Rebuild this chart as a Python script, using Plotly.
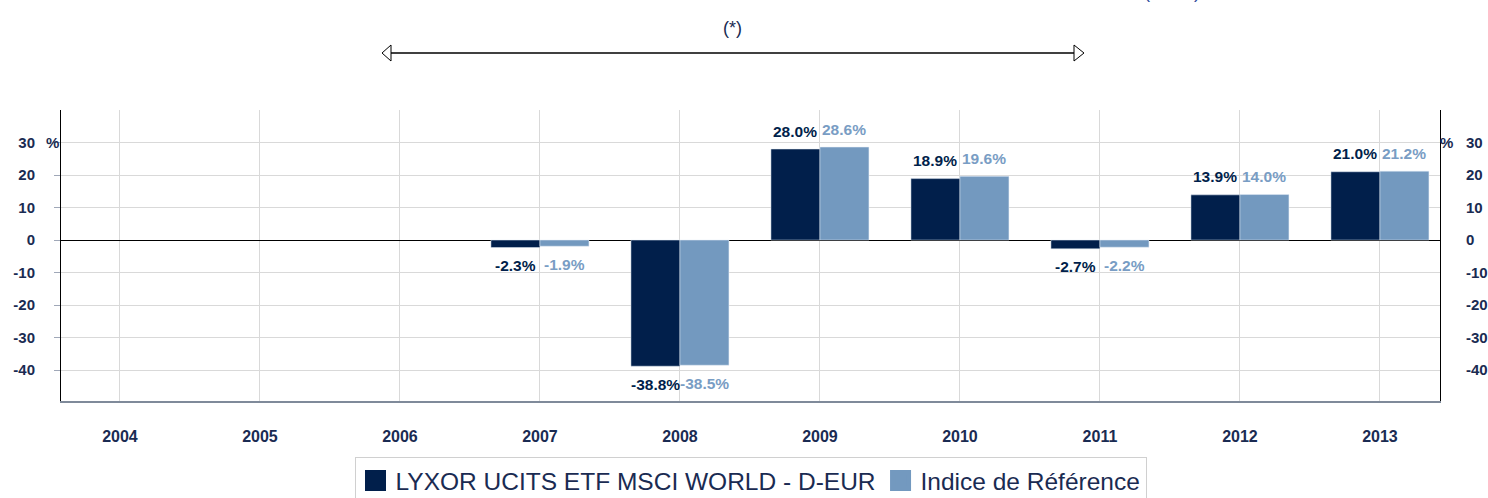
import plotly.graph_objects as go

# ---- data ----
axis_years = [2004, 2005, 2006, 2007, 2008, 2009, 2010, 2011, 2012, 2013]
years = [2007, 2008, 2009, 2010, 2011, 2012, 2013]
fund = [-2.3, -38.8, 28.0, 18.9, -2.7, 13.9, 21.0]
bench = [-1.9, -38.5, 28.6, 19.6, -2.2, 14.0, 21.2]
fund_name = "LYXOR UCITS ETF MSCI WORLD - D-EUR"
bench_name = "Indice de Référence"
y_ticks = [-40, -30, -20, -10, 0, 10, 20, 30]
y_ticktext = [str(v) for v in y_ticks]

# ---- style ----
DARK = "#011f4b"
LIGHT = "#7399bf"
LIGHT_TXT = "#799dc4"
NAVY = "#1a2b52"
GRID = "#d9d9d9"
FONT = "Liberation Sans, Arial, sans-serif"

W, H = 1488, 498
ML, MR, MT, MB = 61, 48, 110, 97
PW, PH = W - ML - MR, H - MT - MB


def px_x(p):
    return (p - ML) / PW


def px_y(p):
    return (H - MB - p) / PH


fig = go.Figure()
fig.add_trace(go.Bar(x=years, y=fund, marker_color=DARK, name=fund_name,
                     showlegend=False, hoverinfo="x+y"))
fig.add_trace(go.Bar(x=years, y=bench, marker_color=LIGHT, name=bench_name,
                     showlegend=False, hoverinfo="x+y"))

# legend proxies (bigger square symbols)
for nm, col in [(fund_name, DARK), (bench_name, LIGHT)]:
    fig.add_trace(go.Scatter(x=[None], y=[None], mode="markers", name=nm,
                             yaxis="y2",
                             marker=dict(symbol="square", size=16, color=col,
                                         line=dict(color=col, width=5))))

annotations = []
half = 0.175
for yr, v in zip(years, fund):
    annotations.append(dict(x=yr - half, y=v, xref="x", yref="y",
                            text=f"{v:.1f}%", showarrow=False,
                            yshift=18 if v >= 0 else -18,
                            font=dict(family=FONT, size=15.5, color=DARK, weight="bold")))
for yr, v in zip(years, bench):
    annotations.append(dict(x=yr + half, y=v, xref="x", yref="y",
                            text=f"{v:.1f}%", showarrow=False,
                            yshift=18 if v >= 0 else -18,
                            font=dict(family=FONT, size=15.5, color=LIGHT_TXT, weight="bold")))

# "%" unit labels
annotations.append(dict(x=px_x(52), y=30, xref="paper", yref="y", text="%",
                        showarrow=False, xanchor="center",
                        font=dict(family=FONT, size=15, color=NAVY, weight="bold")))
annotations.append(dict(x=px_x(1447), y=30, xref="paper", yref="y", text="%",
                        showarrow=False, xanchor="center",
                        font=dict(family=FONT, size=15, color=NAVY, weight="bold")))
# period note
annotations.append(dict(x=px_x(732), y=px_y(28), xref="paper", yref="paper", text="(*)",
                        showarrow=False, xanchor="center", yanchor="middle",
                        font=dict(family=FONT, size=18, color=NAVY)))
# cut-off note at the top edge (as in the reference)
annotations.append(dict(x=px_x(1172), y=px_y(4), xref="paper", yref="paper",
                        text="(&nbsp;&nbsp;&nbsp;**&nbsp;&nbsp;&nbsp;)",
                        showarrow=False, xanchor="center", yanchor="bottom",
                        font=dict(family=FONT, size=18, color="#2e4c9c")))

# double-headed arrow
ay = px_y(53)
shapes = [
    dict(type="line", xref="paper", yref="paper", x0=px_x(391), x1=px_x(1074),
         y0=ay, y1=ay, line=dict(color="black", width=1.5)),
    dict(type="path", xref="paper", yref="paper",
         path=f"M {px_x(382)},{ay} L {px_x(391)},{px_y(45)} L {px_x(391)},{px_y(61)} Z",
         fillcolor="white", line=dict(color="black", width=1)),
    dict(type="path", xref="paper", yref="paper",
         path=f"M {px_x(1084)},{ay} L {px_x(1074)},{px_y(45)} L {px_x(1074)},{px_y(61)} Z",
         fillcolor="white", line=dict(color="black", width=1)),
]

ytickfont = dict(family=FONT, size=15, color=NAVY, weight="bold")
xtickfont = dict(family=FONT, size=16, color=NAVY, weight="bold")

fig.update_layout(
    width=W, height=H,
    margin=dict(l=ML, r=MR, t=MT, b=MB, pad=0, autoexpand=False),
    paper_bgcolor="white", plot_bgcolor="white",
    barmode="group", bargap=0.3, bargroupgap=0,
    font=dict(family=FONT, color=NAVY),
    xaxis=dict(type="linear", range=[2003.579, 2013.429], tickvals=axis_years,
               ticktext=[str(y) for y in axis_years], automargin=False,
               showgrid=True, gridcolor=GRID, gridwidth=1, zeroline=False,
               showline=True, linecolor="#7f8a9a", linewidth=1.5,
               ticks="", tickfont=xtickfont, ticklabelstandoff=20),
    yaxis=dict(range=[-49.5, 40], tickvals=y_ticks, ticktext=y_ticktext,
               automargin=False,
               showgrid=True, gridcolor=GRID, gridwidth=1,
               zeroline=True, zerolinecolor="black", zerolinewidth=1,
               showline=True, linecolor="black", linewidth=1,
               ticks="outside", ticklen=6, tickcolor="#a0a8b8",
               tickfont=ytickfont, ticklabelstandoff=16),
    yaxis2=dict(range=[-49.5, 40], tickvals=y_ticks, ticktext=y_ticktext,
                automargin=False,
                overlaying="y", side="right", showgrid=False, zeroline=False,
                showline=True, linecolor="black", linewidth=1, ticks="",
                tickfont=ytickfont, ticklabelstandoff=22),
    legend=dict(orientation="h", x=0.5, xanchor="center", y=px_y(457), yanchor="top",
                bordercolor="#d0d0d0", borderwidth=1, bgcolor="white",
                font=dict(family=FONT, size=24.5, color=NAVY)),
    annotations=annotations,
    shapes=shapes,
)

fig.write_html("out.html")
